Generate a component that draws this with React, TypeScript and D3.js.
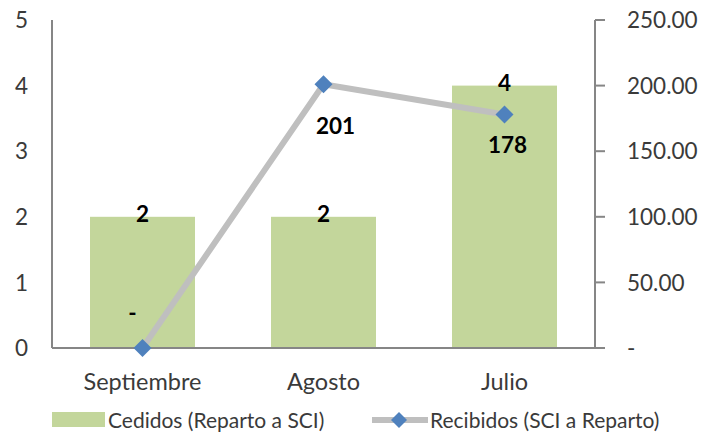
import React from "react";
import * as d3 from "d3";

const categories = ["Septiembre", "Agosto", "Julio"];
const cedidos = [2, 2, 4];
const recibidos = [0, 201, 178];
const recibidosLabels = ["-", "201", "178"];
const leftTicks = [0, 1, 2, 3, 4, 5];
const rightTicks = [0, 50, 100, 150, 200, 250];
const rightTickLabels = ["-", "50.00", "100.00", "150.00", "200.00", "250.00"];
const legendLabels = ["Cedidos (Reparto a SCI)", "Recibidos (SCI a Reparto)"];

// label offsets for line data labels (styling)
const lineLabelOffsets = [
  [-10, -35],
  [12, 42],
  [3, 30],
];

const W = 705;
const H = 434;
const left = 52;
const right = 595;
const top = 20;
const bottom = 348;
const FONT = "Lato, 'Open Sans', sans-serif";
const AXIS = "#868686";
const BAR = "#c3d69b";
const LINE = "#bfbfbf";
const MARK = "#4f81bd";
const TXT = "#3a3a3a";

export default function App() {
  React.useEffect(() => {
    document.body.style.margin = "0";
  }, []);

  const x = d3.scaleBand<string>().domain(categories).range([left, right]).paddingInner(0.42).paddingOuter(0.21);
  const y = d3.scaleLinear().domain([0, 5]).range([bottom, top]);
  const y2 = d3.scaleLinear().domain([0, 250]).range([bottom, top]);
  const cx = (c: string) => (x(c) as number) + x.bandwidth() / 2;

  const linePath = d3
    .line<number>()
    .x((_, i) => cx(categories[i]))
    .y((d) => y2(d))(recibidos) as string;

  const diamond = (px: number, py: number, r: number) =>
    `M${px},${py - r}L${px + r},${py}L${px},${py + r}L${px - r},${py}Z`;

  return (
    <svg width={W} height={H} style={{ display: "block", background: "#fff" }} fontFamily={FONT}>
      {/* bars */}
      {categories.map((c, i) => (
        <rect key={c} x={x(c)} y={y(cedidos[i])} width={x.bandwidth()} height={bottom - y(cedidos[i])} fill={BAR} />
      ))}
      {/* axes */}
      <line x1={left} x2={left} y1={top} y2={bottom} stroke={AXIS} strokeWidth={2} />
      <line x1={left} x2={right + 10} y1={bottom} y2={bottom} stroke={AXIS} strokeWidth={2} />
      <line x1={right} x2={right} y1={top} y2={bottom} stroke={AXIS} strokeWidth={2} />
      {rightTicks.map((t) => (
        <line key={t} x1={right} x2={right + 10} y1={y2(t)} y2={y2(t)} stroke={AXIS} strokeWidth={2} />
      ))}
      {leftTicks.map((t) => (
        <text key={t} x={28} y={y(t)} dy="0.36em" textAnchor="end" fontSize={22.5} fill={TXT}>
          {t}
        </text>
      ))}
      {rightTicks.map((t, i) => (
        <text key={t} x={627} y={y2(t)} dy="0.36em" textAnchor="start" fontSize={22.5} fill={TXT}>
          {rightTickLabels[i]}
        </text>
      ))}
      {categories.map((c) => (
        <text key={c} x={cx(c)} y={382} dy="0.36em" textAnchor="middle" fontSize={23.5} fill={TXT}>
          {c}
        </text>
      ))}
      {/* line */}
      <path d={linePath} fill="none" stroke={LINE} strokeWidth={6} />
      {recibidos.map((v, i) => (
        <path key={i} d={diamond(cx(categories[i]), y2(v), 9)} fill={MARK} />
      ))}
      {/* bar labels */}
      {categories.map((c, i) => (
        <text key={c} x={cx(c)} y={y(cedidos[i]) - 3} dy="0.36em" textAnchor="middle" fontSize={22.5} fontWeight="bold" fill="#000">
          {cedidos[i]}
        </text>
      ))}
      {/* line labels */}
      {recibidos.map((v, i) => (
        <text
          key={i}
          x={cx(categories[i]) + lineLabelOffsets[i][0]}
          y={y2(v) + lineLabelOffsets[i][1]}
          dy="0.36em"
          textAnchor="middle"
          fontSize={22.5}
          fontWeight="bold"
          fill="#000"
        >
          {recibidosLabels[i]}
        </text>
      ))}
      {/* legend */}
      <rect x={52} y={412} width={53} height={15} fill={BAR} />
      <text x={108} y={420} dy="0.36em" fontSize={21} fill={TXT}>
        {legendLabels[0]}
      </text>
      <line x1={372} x2={428} y1={420} y2={420} stroke={LINE} strokeWidth={6} />
      <path d={diamond(399, 420, 8)} fill={MARK} />
      <text x={430} y={420} dy="0.36em" fontSize={21} fill={TXT}>
        {legendLabels[1]}
      </text>
    </svg>
  );
}
